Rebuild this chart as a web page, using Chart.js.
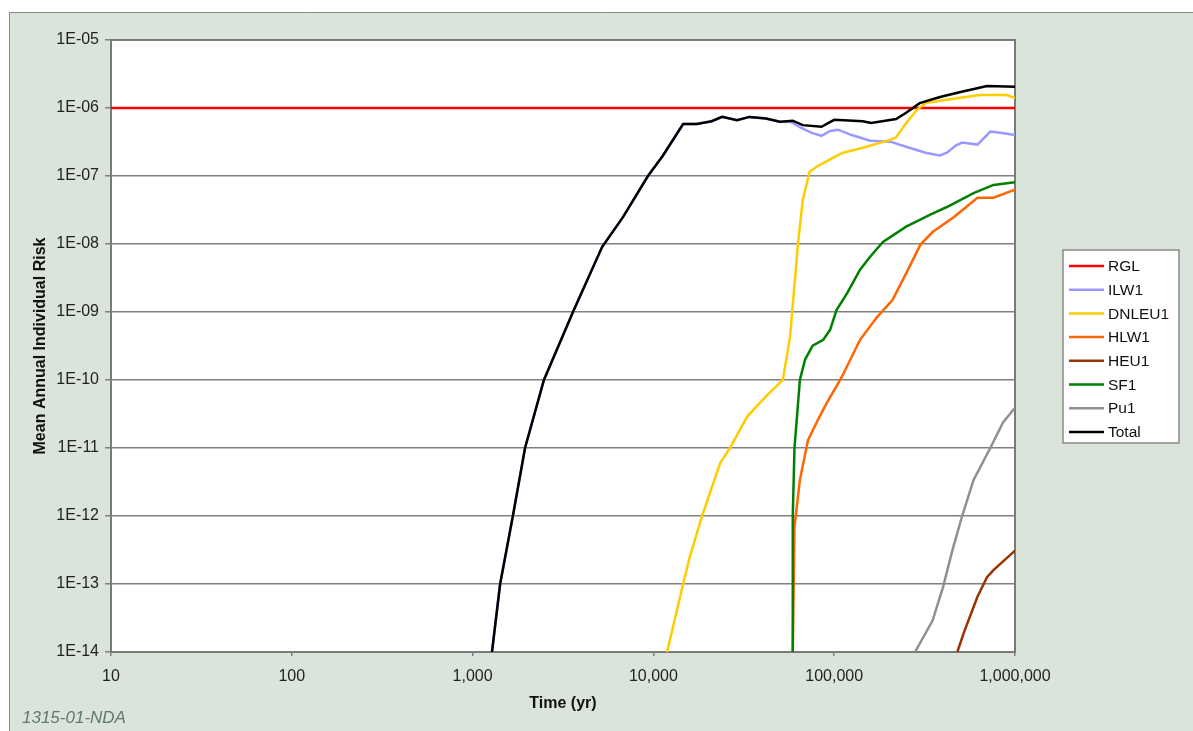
<!DOCTYPE html>
<html>
<head>
<meta charset="utf-8">
<title>Mean Annual Individual Risk</title>
<script src="https://cdn.jsdelivr.net/npm/chart.js@4.4.1/dist/chart.umd.min.js"></script>
<style>
  html, body { margin: 0; padding: 0; background: #fff; }
  #wrap { position: relative; width: 1193px; height: 731px; }
</style>
</head>
<body>
<div id="wrap"><canvas id="riskChart" width="1193" height="731"></canvas></div>
<script>
// ticks
var xTickValues = [10, 100, 1000, 10000, 100000, 1000000];
var xTickLabels = ['10', '100', '1,000', '10,000', '100,000', '1,000,000'];
var yTickValues = [1e-14, 1e-13, 1e-12, 1e-11, 1e-10, 1e-9, 1e-8, 1e-7, 1e-6, 1e-5];
var yTickLabels = ['1E-14', '1E-13', '1E-12', '1E-11', '1E-10', '1E-09', '1E-08', '1E-07', '1E-06', '1E-05'];

// series (time in years, risk per year)
var rglTime = [10, 1000000];
var rglRisk = [1e-6, 1e-6];

var ilwTime = [1280, 1420, 1670, 1950, 2480, 3590, 5200, 6800, 9330, 11300, 14600, 17400, 21000, 24000, 29000, 34000, 42000, 50000, 58000, 65000, 75000, 85000, 95000, 105000, 125000, 158000, 204000, 260000, 320000, 385000, 420000, 470000, 510000, 620000, 730000, 850000, 1000000];
var ilwRisk = [1e-14, 1e-13, 1e-12, 1e-11, 1e-10, 1e-9, 9e-9, 2.5e-8, 1e-7, 2e-7, 5.8e-7, 5.8e-7, 6.4e-7, 7.4e-7, 6.6e-7, 7.4e-7, 7e-7, 6.3e-7, 6.2e-7, 5.2e-7, 4.3e-7, 3.9e-7, 4.6e-7, 4.8e-7, 4e-7, 3.3e-7, 3.2e-7, 2.6e-7, 2.2e-7, 2e-7, 2.2e-7, 2.8e-7, 3.1e-7, 2.9e-7, 4.5e-7, 4.3e-7, 4e-7];

var dnleuTime = [11900, 14600, 15900, 18600, 23400, 26500, 33000, 42600, 52000, 57000, 59000, 61000, 63000, 67000, 73000, 81000, 87000, 100000, 112000, 144000, 204000, 220000, 250000, 287000, 320000, 400000, 640000, 900000, 1000000];
var dnleuRisk = [1e-14, 1e-13, 2.5e-13, 1e-12, 6e-12, 1e-11, 2.9e-11, 6e-11, 1e-10, 4.3e-10, 1.3e-9, 3.5e-9, 1e-8, 4.4e-8, 1.15e-7, 1.4e-7, 1.55e-7, 1.9e-7, 2.2e-7, 2.6e-7, 3.4e-7, 3.7e-7, 6e-7, 9.4e-7, 1.18e-6, 1.3e-6, 1.55e-6, 1.55e-6, 1.4e-6];

var hlwTime = [59000, 60300, 64600, 71600, 83000, 91000, 110000, 139000, 173000, 210000, 250000, 300000, 350000, 460000, 620000, 760000, 1000000];
var hlwRisk = [1e-14, 7e-13, 3.4e-12, 1.3e-11, 2.9e-11, 4.6e-11, 1.1e-10, 3.9e-10, 8.5e-10, 1.5e-9, 3.7e-9, 9.8e-9, 1.5e-8, 2.5e-8, 4.8e-8, 4.8e-8, 6.3e-8];

var heuTime = [480000, 520000, 620000, 700000, 760000, 1000000];
var heuRisk = [1e-14, 1.9e-14, 6.5e-14, 1.26e-13, 1.6e-13, 3.1e-13];

var sfTime = [58500, 59000, 60300, 64600, 69000, 76000, 87000, 95000, 103000, 118000, 139000, 158000, 186000, 250000, 340000, 420000, 590000, 760000, 1000000];
var sfRisk = [1e-14, 1e-12, 1e-11, 1e-10, 2e-10, 3.2e-10, 3.9e-10, 5.5e-10, 1.07e-9, 1.9e-9, 4.2e-9, 6.5e-9, 1.07e-8, 1.8e-8, 2.7e-8, 3.5e-8, 5.6e-8, 7.4e-8, 8.1e-8];

var puTime = [280000, 350000, 400000, 450000, 510000, 590000, 730000, 860000, 1000000];
var puRisk = [1e-14, 2.9e-14, 9e-14, 3.1e-13, 1e-12, 3.4e-12, 1e-11, 2.4e-11, 3.9e-11];

var totalTime = [1280, 1420, 1670, 1950, 2480, 3590, 5200, 6800, 9330, 11300, 14600, 17400, 21000, 24000, 29000, 34000, 42000, 50000, 59000, 67000, 85000, 100000, 144000, 160000, 220000, 250000, 297000, 385000, 500000, 700000, 1000000];
var totalRisk = [1e-14, 1e-13, 1e-12, 1e-11, 1e-10, 1e-9, 9e-9, 2.5e-8, 1e-7, 2e-7, 5.8e-7, 5.8e-7, 6.4e-7, 7.4e-7, 6.6e-7, 7.4e-7, 7e-7, 6.3e-7, 6.5e-7, 5.6e-7, 5.3e-7, 6.7e-7, 6.4e-7, 6e-7, 6.9e-7, 8.5e-7, 1.18e-6, 1.45e-6, 1.72e-6, 2.1e-6, 2.05e-6];

var FONT = "'Liberation Sans', Arial, sans-serif";
Chart.defaults.font.family = FONT;

function pairs(xs, ys) {
	return xs.map(function(x, i) { return { x: x, y: ys[i] }; });
}

function series(label, xs, ys, color, order) {
	return {
		label: label,
		data: pairs(xs, ys),
		borderColor: color,
		backgroundColor: color,
		borderWidth: 2.5,
		pointRadius: 0,
		showLine: true,
		tension: 0,
		order: order
	};
}

var framePlugin = {
	id: 'frame',
	beforeDraw: function(chart) {
		var ctx = chart.ctx, a = chart.chartArea;
		ctx.save();
		ctx.fillStyle = '#fff';
		ctx.fillRect(0, 0, chart.width, chart.height);
		ctx.fillStyle = '#dbe4db';
		ctx.fillRect(9, 12, chart.width, chart.height);
		ctx.strokeStyle = '#8a8a8a';
		ctx.lineWidth = 1;
		ctx.beginPath();
		ctx.moveTo(9.5, chart.height);
		ctx.lineTo(9.5, 12.5);
		ctx.lineTo(chart.width, 12.5);
		ctx.stroke();
		ctx.fillStyle = '#fff';
		ctx.fillRect(a.left, a.top, a.right - a.left, a.bottom - a.top);
		ctx.restore();
	},
	beforeDatasetsDraw: function(chart) {
		var ctx = chart.ctx, a = chart.chartArea;
		ctx.save();
		ctx.strokeStyle = '#7a7a7a';
		ctx.lineWidth = 2;
		ctx.strokeRect(a.left, a.top, a.right - a.left, a.bottom - a.top);
		ctx.restore();
	},
	afterDraw: function(chart) {
		var ctx = chart.ctx;
		ctx.save();
		// legend box
		ctx.fillStyle = '#fff';
		ctx.fillRect(1063, 250, 116, 193);
		ctx.strokeStyle = '#8a8a8a';
		ctx.lineWidth = 1.5;
		ctx.strokeRect(1063, 250, 116, 193);
		ctx.font = '15.5px ' + FONT;
		ctx.textBaseline = 'middle';
		ctx.textAlign = 'left';
		chart.data.datasets.forEach(function(ds, i) {
			var y = 266 + i * 23.7;
			ctx.strokeStyle = ds.borderColor;
			ctx.lineWidth = 2.5;
			ctx.beginPath();
			ctx.moveTo(1069, y);
			ctx.lineTo(1104, y);
			ctx.stroke();
			ctx.fillStyle = '#111';
			ctx.fillText(ds.label, 1108, y + 1);
		});
		// figure reference
		ctx.font = 'italic 17px ' + FONT;
		ctx.fillStyle = '#5f7a6c';
		ctx.fillText('1315-01-NDA', 22, 718);
		ctx.restore();
	}
};

var ctx = document.getElementById('riskChart').getContext('2d');
var riskChart = new Chart(ctx, {
	type: 'scatter',
	data: {
		datasets: [
			series('RGL', rglTime, rglRisk, '#ff0000', 8),
			series('ILW1', ilwTime, ilwRisk, '#9999ff', 7),
			series('DNLEU1', dnleuTime, dnleuRisk, '#ffcc00', 5),
			series('HLW1', hlwTime, hlwRisk, '#ff6600', 4),
			series('HEU1', heuTime, heuRisk, '#993300', 3),
			series('SF1', sfTime, sfRisk, '#008000', 2),
			series('Pu1', puTime, puRisk, '#909090', 1),
			series('Total', totalTime, totalRisk, '#000000', 0)
		]
	},
	options: {
		responsive: false,
		animation: false,
		layout: { padding: { left: 27, top: 40, right: 178, bottom: 14 } },
		plugins: {
			legend: { display: false },
			tooltip: { enabled: false }
		},
		scales: {
			x: {
				type: 'logarithmic',
				min: 10,
				max: 1000000,
				afterBuildTicks: function(scale) {
					scale.ticks = xTickValues.map(function(v) { return { value: v }; });
				},
				afterFit: function(scale) { scale.height = 65; },
				ticks: {
					callback: function(v, i) { return xTickLabels[i]; },
					font: { size: 16 },
					color: '#222',
					padding: 11,
					maxRotation: 0,
					autoSkip: false
				},
				grid: { drawOnChartArea: false, drawTicks: true, tickLength: 4, color: '#808080', lineWidth: 1.5 },
				border: { display: false },
				title: {
					display: true,
					text: 'Time (yr)',
					font: { size: 16, weight: 'bold' },
					color: '#111',
					padding: { top: 4, bottom: 4 }
				}
			},
			y: {
				type: 'logarithmic',
				min: 1e-14,
				max: 1e-5,
				afterBuildTicks: function(scale) {
					scale.ticks = yTickValues.map(function(v) { return { value: v }; });
				},
				afterFit: function(scale) { scale.width = 84; },
				ticks: {
					callback: function(v, i) { return yTickLabels[i]; },
					font: { size: 16 },
					color: '#222',
					padding: 6,
					autoSkip: false
				},
				grid: { color: '#808080', lineWidth: 1.5, drawTicks: true, tickLength: 6 },
				border: { display: false },
				title: {
					display: true,
					text: 'Mean Annual Individual Risk',
					font: { size: 16, weight: 'bold' },
					color: '#111',
					padding: { top: 4, bottom: 4 }
				}
			}
		}
	},
	plugins: [framePlugin]
});
</script>
</body>
</html>
